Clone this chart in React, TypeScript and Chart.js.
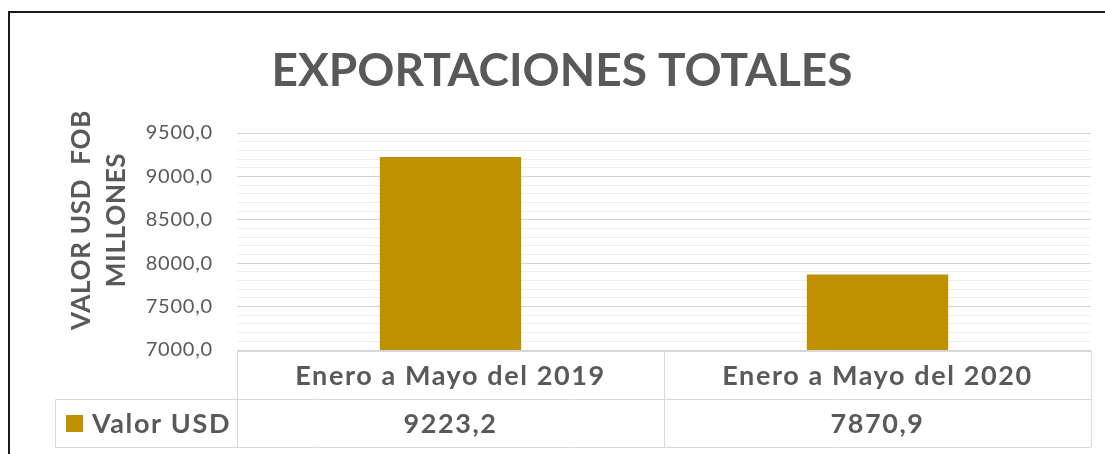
import { useEffect, useRef } from "react";
import { Chart, registerables } from "chart.js";

Chart.register(...registerables);

const chartTitle = "EXPORTACIONES TOTALES";
const yAxisTitle = ["VALOR USD  FOB", "MILLONES"];
const categories = ["Enero a Mayo del 2019", "Enero a Mayo del 2020"];
const seriesName = "Valor USD";
const seriesValues = [9223.2, 7870.9];
const yMin = 7000;
const yMax = 9500;
const yMinorStep = 100;
const yMajorStep = 500;

const FONT = "Lato, 'Open Sans', sans-serif";
const TEXT = "#595959";
const BAR = "#BF9000";
const TABLE_LINE = "#d9d9d9";

const fmt = (v: number) => v.toFixed(1).replace(".", ",");

const decorPlugin = {
  id: "decor",
  beforeDraw(chart: any) {
    chart.ctx.canvas.style.letterSpacing = "0.8px";
  },
  afterDraw(chart: any) {
    const ctx = chart.ctx as any;
    const area = chart.chartArea;
    const xs = chart.scales.x;
    ctx.save();

    // outer frame (partially visible)
    ctx.strokeStyle = "#1a1a1a";
    ctx.lineWidth = 2;
    ctx.beginPath();
    ctx.moveTo(9, chart.height);
    ctx.lineTo(9, 12);
    ctx.lineTo(chart.width, 12);
    ctx.stroke();

    // title
    ctx.letterSpacing = "0px";
    ctx.fillStyle = TEXT;
    ctx.font = `bold 46px ${FONT}`;
    ctx.textAlign = "center";
    ctx.textBaseline = "alphabetic";
    ctx.fillText(chartTitle, 562, 86);

    // y axis title (rotated)
    ctx.save();
    ctx.letterSpacing = "0.7px";
    ctx.font = `bold 26px ${FONT}`;
    ctx.translate(82, 220);
    ctx.rotate(-Math.PI / 2);
    ctx.textBaseline = "middle";
    ctx.textAlign = "center";
    ctx.fillText(yAxisTitle[0], 0, 0);
    ctx.fillText(yAxisTitle[1], 0, 35);
    ctx.restore();

    // data table
    const top = area.bottom + 1;
    const mid = 399.5;
    const bottom = 447.5;
    const left = area.left;
    const right = area.right;
    const legendLeft = 55.5;
    ctx.strokeStyle = TABLE_LINE;
    ctx.lineWidth = 1;
    ctx.beginPath();
    ctx.moveTo(left, top + 0.5);
    ctx.lineTo(right, top + 0.5);
    ctx.moveTo(legendLeft, mid);
    ctx.lineTo(right, mid);
    ctx.moveTo(legendLeft, bottom);
    ctx.lineTo(right, bottom);
    ctx.moveTo(legendLeft, mid);
    ctx.lineTo(legendLeft, bottom);
    const n = categories.length;
    for (let i = 0; i <= n; i++) {
      const x = Math.round(left + ((right - left) * i) / n) + 0.5;
      ctx.moveTo(x, top);
      ctx.lineTo(x, bottom);
    }
    ctx.stroke();

    ctx.fillStyle = TEXT;
    ctx.letterSpacing = "1.6px";
    ctx.font = `bold 27px ${FONT}`;
    ctx.textAlign = "center";
    ctx.textBaseline = "middle";
    categories.forEach((c, i) => {
      const cx = xs.getPixelForValue(i);
      ctx.fillText(c, cx, (top + mid) / 2 + 1);
      ctx.fillText(fmt(seriesValues[i]), cx, (mid + bottom) / 2 + 1);
    });

    // legend key
    ctx.fillStyle = BAR;
    ctx.fillRect(66, 415, 17, 17);
    ctx.fillStyle = TEXT;
    ctx.textAlign = "left";
    ctx.fillText(seriesName, 92, (mid + bottom) / 2 + 1);

    ctx.restore();
  },
};

export default function App() {
  const ref = useRef<HTMLCanvasElement | null>(null);
  useEffect(() => {
    document.body.style.margin = "0";
    if (!ref.current) return;
    const chart = new Chart(ref.current, {
      type: "bar",
      data: {
        labels: categories,
        datasets: [
          {
            label: seriesName,
            data: seriesValues,
            backgroundColor: BAR,
            borderWidth: 0,
            categoryPercentage: 1,
            barPercentage: 0.331,
          },
        ],
      },
      options: {
        animation: false,
        responsive: false,
        devicePixelRatio: 1,
        layout: { padding: { top: 133, right: 14, bottom: 104, left: 0 } },
        plugins: {
          legend: { display: false },
          title: { display: false },
          tooltip: { enabled: false },
        },
        scales: {
          x: { display: false },
          y: {
            min: yMin,
            max: yMax,
            afterFit(scale: any) {
              scale.width = 237;
            },
            border: { display: false },
            grid: {
              drawTicks: false,
              color: (c: any) =>
                c.tick && c.tick.value % yMajorStep === 0 ? "#d4d4d4" : "#efefef",
              lineWidth: 1,
            },
            ticks: {
              stepSize: yMinorStep,
              autoSkip: false,
              padding: 24,
              color: TEXT,
              font: { family: FONT, size: 20 },
              callback: (v: any) => (Number(v) % yMajorStep === 0 ? fmt(Number(v)) : ""),
            },
          },
        },
      },
      plugins: [decorPlugin],
    });
    return () => chart.destroy();
  }, []);
  return (
    <div style={{ width: 1105, height: 454 }}>
      <canvas ref={ref} width={1105} height={454} />
    </div>
  );
}
